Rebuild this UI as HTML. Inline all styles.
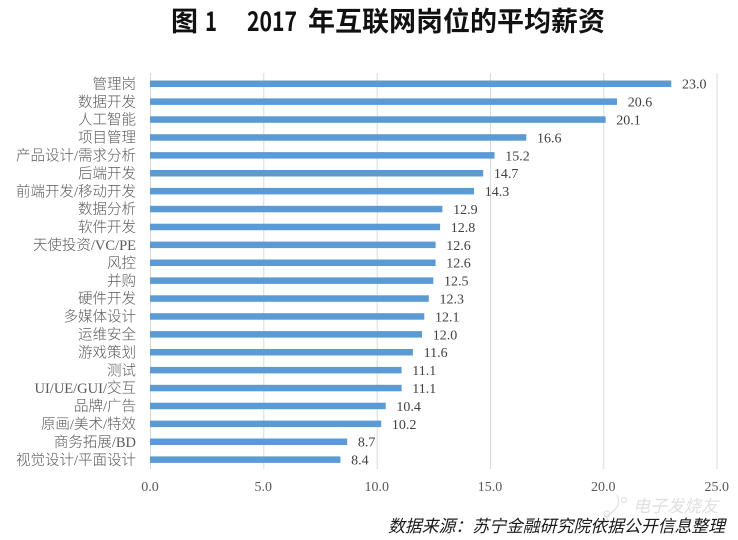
<!DOCTYPE html>
<html><head><meta charset="utf-8">
<style>
html,body{margin:0;padding:0;background:#fff;}
body{width:738px;height:540px;overflow:hidden;position:relative;}
svg{position:absolute;left:0;top:0;}
</style></head>
<body>
<svg width="738" height="540" viewBox="0 0 738 540" xmlns="http://www.w3.org/2000/svg">
<rect width="738" height="540" fill="#fff"/>
<!-- title -->
<g font-family="'Liberation Sans','Noto Sans CJK SC',sans-serif" font-weight="bold" font-size="27" fill="#111">
<text x="171" y="31">图</text>
<text x="205" y="31" font-family="'Noto Sans CJK SC',sans-serif" textLength="12" lengthAdjust="spacingAndGlyphs">1</text>
<text x="247" y="31" font-family="'Noto Sans CJK SC',sans-serif" textLength="50" lengthAdjust="spacingAndGlyphs">2017</text>
<text x="308" y="31" textLength="297" lengthAdjust="spacing">年互联网岗位的平均薪资</text>
</g>
<!-- gridlines -->
<g stroke="#d9d9d9" stroke-width="1">
<line x1="150.5" y1="73" x2="150.5" y2="469"/>
<line x1="263.8" y1="73" x2="263.8" y2="469"/>
<line x1="377.2" y1="73" x2="377.2" y2="469"/>
<line x1="490.5" y1="73" x2="490.5" y2="469"/>
<line x1="603.8" y1="73" x2="603.8" y2="469"/>
<line x1="717" y1="73" x2="717" y2="469"/>
</g>
<!-- tick labels -->
<g font-family="'Liberation Serif',serif" font-size="14" fill="#595959" text-anchor="middle">
<text x="150" y="491">0.0</text>
<text x="263.3" y="491">5.0</text>
<text x="376.7" y="491">10.0</text>
<text x="490" y="491">15.0</text>
<text x="603.3" y="491">20.0</text>
<text x="716.7" y="491">25.0</text>
</g>
<!-- bars -->
<g fill="#5b9bd5">
<rect x="150" y="80.5" width="521.3" height="6.5"/>
<rect x="150" y="98.4" width="467.0" height="6.5"/>
<rect x="150" y="116.3" width="455.6" height="6.5"/>
<rect x="150" y="134.2" width="376.3" height="6.5"/>
<rect x="150" y="152.1" width="344.5" height="6.5"/>
<rect x="150" y="170.0" width="333.2" height="6.5"/>
<rect x="150" y="187.9" width="324.1" height="6.5"/>
<rect x="150" y="205.8" width="292.4" height="6.5"/>
<rect x="150" y="223.7" width="290.1" height="6.5"/>
<rect x="150" y="241.6" width="285.6" height="6.5"/>
<rect x="150" y="259.5" width="285.6" height="6.5"/>
<rect x="150" y="277.4" width="283.3" height="6.5"/>
<rect x="150" y="295.3" width="278.8" height="6.5"/>
<rect x="150" y="313.2" width="274.3" height="6.5"/>
<rect x="150" y="331.1" width="272.0" height="6.5"/>
<rect x="150" y="349.0" width="262.9" height="6.5"/>
<rect x="150" y="366.9" width="251.6" height="6.5"/>
<rect x="150" y="384.8" width="251.6" height="6.5"/>
<rect x="150" y="402.7" width="235.7" height="6.5"/>
<rect x="150" y="420.6" width="231.2" height="6.5"/>
<rect x="150" y="438.5" width="197.2" height="6.5"/>
<rect x="150" y="456.4" width="190.4" height="6.5"/>
</g>
<!-- value labels -->
<g font-family="'Liberation Serif',serif" font-size="14" fill="#404040">
<text x="682" y="88.7">23.0</text>
<text x="627.7" y="106.6">20.6</text>
<text x="616.3" y="124.5">20.1</text>
<text x="537" y="142.4">16.6</text>
<text x="505.2" y="160.3">15.2</text>
<text x="493.9" y="178.2">14.7</text>
<text x="484.8" y="196.1">14.3</text>
<text x="453.1" y="214.0">12.9</text>
<text x="450.8" y="231.9">12.8</text>
<text x="446.3" y="249.8">12.6</text>
<text x="446.3" y="267.7">12.6</text>
<text x="444" y="285.6">12.5</text>
<text x="439.5" y="303.5">12.3</text>
<text x="435" y="321.4">12.1</text>
<text x="432.7" y="339.3">12.0</text>
<text x="423.6" y="357.2">11.6</text>
<text x="412.3" y="375.1">11.1</text>
<text x="412.3" y="393.0">11.1</text>
<text x="396.4" y="410.9">10.4</text>
<text x="391.9" y="428.8">10.2</text>
<text x="357.9" y="446.7">8.7</text>
<text x="351.1" y="464.6">8.4</text>
</g>
<!-- category labels -->
<g font-family="'Liberation Serif','Noto Sans CJK SC',serif" font-size="14.5" font-weight="300" fill="#5a5a5a" text-anchor="end">
<text x="136" y="88.9">管理岗</text>
<text x="136" y="106.8">数据开发</text>
<text x="136" y="124.7">人工智能</text>
<text x="136" y="142.6">项目管理</text>
<text x="136" y="160.5">产品设计/需求分析</text>
<text x="136" y="178.4">后端开发</text>
<text x="136" y="196.3">前端开发/移动开发</text>
<text x="136" y="214.2">数据分析</text>
<text x="136" y="232.1">软件开发</text>
<text x="136" y="250.0">天使投资/VC/PE</text>
<text x="136" y="267.9">风控</text>
<text x="136" y="285.8">并购</text>
<text x="136" y="303.7">硬件开发</text>
<text x="136" y="321.6">多媒体设计</text>
<text x="136" y="339.5">运维安全</text>
<text x="136" y="357.4">游戏策划</text>
<text x="136" y="375.3">测试</text>
<text x="136" y="393.2">UI/UE/GUI/交互</text>
<text x="136" y="411.1">品牌/广告</text>
<text x="136" y="429.0">原画/美术/特效</text>
<text x="136" y="446.9">商务拓展/BD</text>
<text x="136" y="464.8">视觉设计/平面设计</text>
</g>
<!-- watermark -->
<g fill="none" stroke="#e2e2e2" stroke-width="1.2">
<path d="M617 495 Q622 505 612 512 Q603 518 610 522"/>
<circle cx="607" cy="514" r="3"/>
<circle cx="624" cy="500" r="2.5"/>
</g>
<text x="633" y="512" font-family="'Noto Sans CJK SC',sans-serif" font-size="17" font-style="italic" fill="#e0e0e0">电子发烧友</text>
<!-- source -->
<text x="388" y="532" font-family="'Liberation Sans','Noto Sans CJK SC',sans-serif" font-size="17" font-style="italic" fill="#1a1a1a" textLength="337" lengthAdjust="spacingAndGlyphs">数据来源：苏宁金融研究院依据公开信息整理</text>
</svg>
</body></html>
